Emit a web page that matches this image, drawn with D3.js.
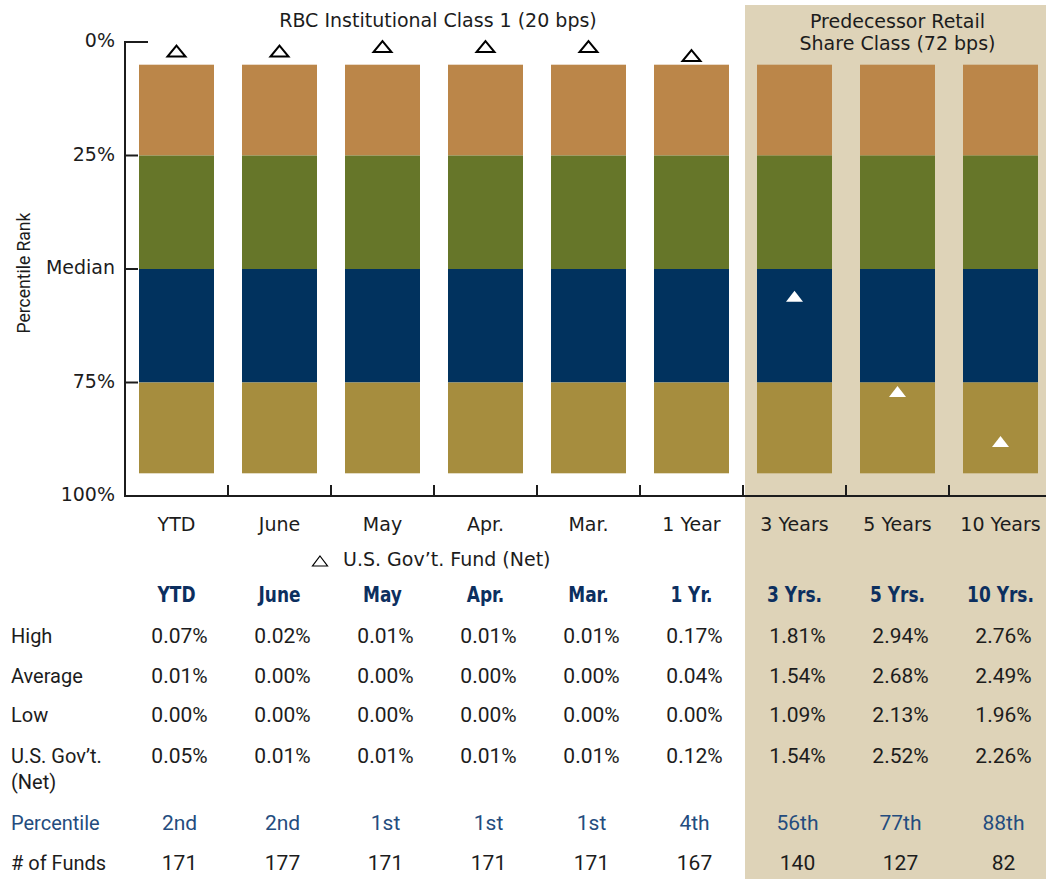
<!DOCTYPE html>
<html>
<head>
<meta charset="utf-8">
<script src="https://cdn.jsdelivr.net/npm/d3@7"></script>
<style>
  html, body { margin: 0; padding: 0; background: #fff; }
  svg { display: block; }
</style>
</head>
<body>
<svg id="chart" width="1046" height="879"></svg>
<script>
// ---------- data ----------
const categories = ["YTD", "June", "May", "Apr.", "Mar.", "1 Year", "3 Years", "5 Years", "10 Years"];
const tableHeaders = ["YTD", "June", "May", "Apr.", "Mar.", "1 Yr.", "3 Yrs.", "5 Yrs.", "10 Yrs."];
const quartileBounds = [5, 25, 50, 75, 95];
const quartileColors = ["#BB8649", "#667629", "#01325E", "#A68D3E"];
const markerRank = [2, 2, 1, 1, 1, 3, 56, 77, 88];
const yTickValues = [0, 25, 50, 75, 100];
const yTickLabels = ["0%", "25%", "Median", "75%", "100%"];
const highVals = ["0.07%", "0.02%", "0.01%", "0.01%", "0.01%", "0.17%", "1.81%", "2.94%", "2.76%"];
const avgVals = ["0.01%", "0.00%", "0.00%", "0.00%", "0.00%", "0.04%", "1.54%", "2.68%", "2.49%"];
const lowVals = ["0.00%", "0.00%", "0.00%", "0.00%", "0.00%", "0.00%", "1.09%", "2.13%", "1.96%"];
const govVals = ["0.05%", "0.01%", "0.01%", "0.01%", "0.01%", "0.12%", "1.54%", "2.52%", "2.26%"];
const percentileVals = ["2nd", "2nd", "1st", "1st", "1st", "4th", "56th", "77th", "88th"];
const fundCounts = ["171", "177", "171", "171", "171", "167", "140", "127", "82"];
const retailCategories = ["3 Years", "5 Years", "10 Years"];

// ---------- setup ----------
const svg = d3.select("#chart");
const ink = "#1c1c1c";
const navy = "#0C2F5F";
const navyLight = "#244C7E";
const beige = "#DED3B8";
const axisFont = "'DejaVu Sans', sans-serif";
const axisSize = "19px";
const tableFont = "Roboto, 'Noto Sans', sans-serif";
const headFont = "'Liberation Sans Narrow', 'DejaVu Sans Condensed', Roboto, sans-serif";

const x = d3.scaleBand().domain(categories).range([125, 1052])
  .paddingInner(0.272).paddingOuter(0.136);
const step = x.step();
const cellLeft = c => x(c) + x.bandwidth() / 2 - step / 2;
const cx = c => x(c) + x.bandwidth() / 2;
const y = d3.scaleLinear().domain([0, 100]).range([42, 496]);

// beige background for retail share class
const retailLeft = cellLeft(retailCategories[0]) + 2;
svg.append("rect")
  .attr("x", retailLeft).attr("y", 5)
  .attr("width", 1046 - retailLeft).attr("height", 879 - 5)
  .attr("fill", beige);

// titles
svg.append("text").attr("x", 438)
  .attr("y", 27).attr("text-anchor", "middle")
  .style("font-family", axisFont).style("font-size", axisSize).attr("fill", ink)
  .text("RBC Institutional Class 1 (20 bps)");
const rc = cx("5 Years");
svg.append("text").attr("x", rc).attr("y", 28).attr("text-anchor", "middle")
  .style("font-family", axisFont).style("font-size", axisSize).attr("fill", ink)
  .text("Predecessor Retail");
svg.append("text").attr("x", rc).attr("y", 50).attr("text-anchor", "middle")
  .style("font-family", axisFont).style("font-size", axisSize).attr("fill", ink)
  .text("Share Class (72 bps)");

// stacked quartile bars
const segs = [];
categories.forEach(c => {
  for (let i = 0; i < quartileColors.length; i++) {
    segs.push({ c, from: quartileBounds[i], to: quartileBounds[i + 1], color: quartileColors[i] });
  }
});
svg.append("g").selectAll("rect").data(segs).join("rect")
  .attr("x", d => x(d.c)).attr("width", x.bandwidth())
  .attr("y", d => y(d.from)).attr("height", d => y(d.to) - y(d.from))
  .attr("fill", d => d.color);

// axes
const axisG = svg.append("g").attr("stroke", ink).attr("stroke-width", 2).attr("fill", "none");
axisG.append("line").attr("x1", 125).attr("x2", 125).attr("y1", y(0)).attr("y2", y(100) + 1);
axisG.append("line").attr("x1", 124).attr("x2", 1046).attr("y1", y(100)).attr("y2", y(100));
yTickValues.forEach((v) => {
  const len = (v === 0 || v === 100) ? 23 : 13;
  axisG.append("line").attr("x1", 124).attr("x2", 125 + len).attr("y1", y(v)).attr("y2", y(v));
});
categories.slice(1).forEach(c => {
  axisG.append("line").attr("x1", cellLeft(c)).attr("x2", cellLeft(c))
    .attr("y1", y(100) - 11).attr("y2", y(100));
});

svg.append("g").selectAll("text").data(yTickValues).join("text")
  .attr("x", 115).attr("y", d => y(d) + 5)
  .attr("text-anchor", "end")
  .style("font-family", axisFont).style("font-size", axisSize).attr("fill", ink)
  .text((d, i) => yTickLabels[i]);

svg.append("text")
  .attr("transform", `translate(30, ${y(50) + 4}) rotate(-90)`)
  .attr("text-anchor", "middle")
  .style("font-family", "'Liberation Sans Narrow', Roboto, sans-serif").style("font-size", "17.5px").attr("fill", ink)
  .text("Percentile Rank");

// category labels
svg.append("g").selectAll("text").data(categories).join("text")
  .attr("x", d => cx(d)).attr("y", 531)
  .attr("text-anchor", "middle")
  .style("font-family", axisFont).style("font-size", axisSize).attr("fill", ink)
  .text(d => d);

// markers
const tri = (w, h) => `M0,${-h / 2}L${w / 2},${h / 2}L${-w / 2},${h / 2}Z`;
svg.append("g").selectAll("path").data(categories).join("path")
  .attr("transform", (d, i) => `translate(${cx(d)},${y(markerRank[i])})`)
  .attr("d", (d) => retailCategories.includes(d) ? tri(17, 11) : tri(18, 11))
  .attr("fill", d => retailCategories.includes(d) ? "#fff" : "none")
  .attr("stroke", d => retailCategories.includes(d) ? "none" : "#000")
  .attr("stroke-width", 2)
  .attr("stroke-linejoin", "miter");

// legend
svg.append("path").attr("transform", "translate(320,561)").attr("d", tri(15, 10))
  .attr("fill", "none").attr("stroke", "#000").attr("stroke-width", 1.2);
svg.append("text").attr("x", 343).attr("y", 566)
  .style("font-family", axisFont).style("font-size", axisSize).attr("fill", ink)
  .text("U.S. Gov\u2019t. Fund (Net)");

// table
svg.append("g").selectAll("text").data(tableHeaders).join("text")
  .attr("x", (d, i) => cx(categories[i])).attr("y", 602)
  .attr("text-anchor", "middle")
  .attr("transform", (d, i) => `translate(${cx(categories[i]) * 0.1},0) scale(0.9,1)`)
  .style("font-family", headFont).style("font-weight", "bold").style("font-size", "21px")
  .attr("fill", navy).text(d => d);

const rows = [
  { label: ["High"], vals: highVals, y: 643, color: ink },
  { label: ["Average"], vals: avgVals, y: 683, color: ink },
  { label: ["Low"], vals: lowVals, y: 722, color: ink },
  { label: ["U.S. Gov\u2019t.", "(Net)"], vals: govVals, y: 763, color: ink },
  { label: ["Percentile"], vals: percentileVals, y: 830, color: navyLight },
  { label: ["# of Funds"], vals: fundCounts, y: 870, color: ink }
];
rows.forEach(r => {
  r.label.forEach((t, j) => {
    svg.append("text").attr("x", 11).attr("y", r.y + j * 26)
      .style("font-family", tableFont).style("font-size", "20px").attr("fill", r.color)
      .text(t);
  });
  svg.append("g").selectAll("text").data(r.vals).join("text")
    .attr("x", (d, i) => cx(categories[i]) + 3).attr("y", r.y)
    .attr("text-anchor", "middle")
    .style("font-family", tableFont).style("font-size", "21px").attr("fill", r.color)
    .text(d => d);
});
</script>
</body>
</html>
